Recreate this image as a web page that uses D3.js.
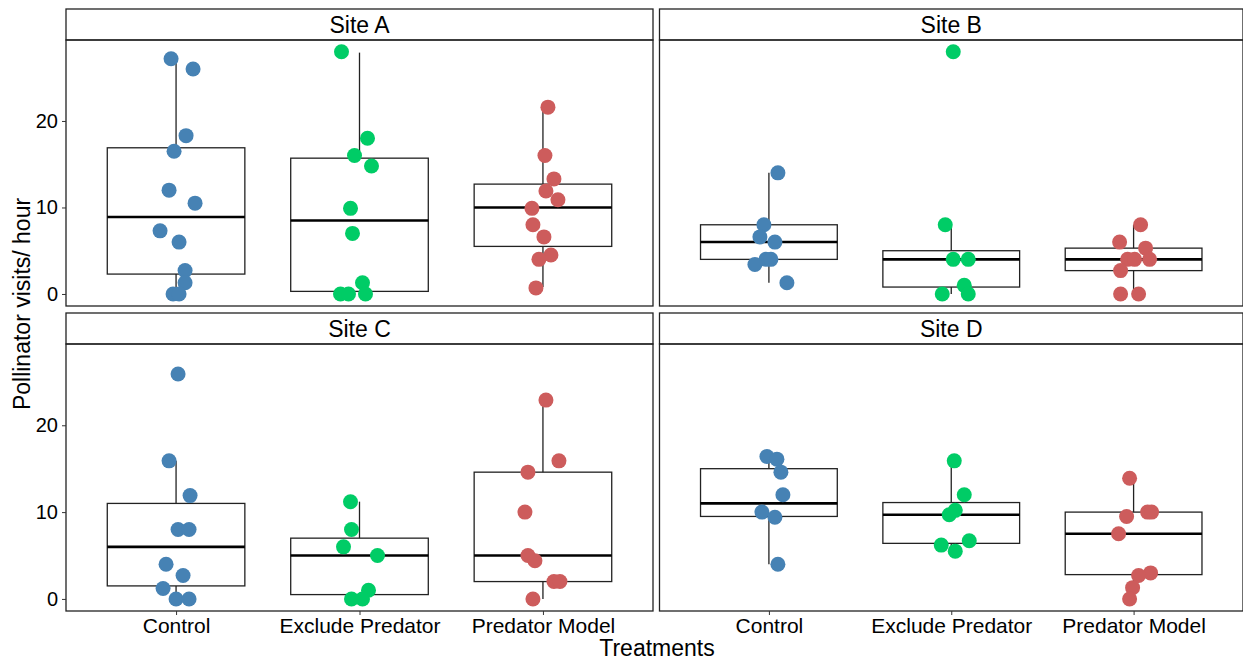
<!DOCTYPE html>
<html>
<head>
<meta charset="utf-8">
<script src="https://cdn.jsdelivr.net/npm/d3@7"></script>
<style>
  body { margin: 0; background: #fff; }
  text { font-family: "Liberation Sans", Arial, sans-serif; }
</style>
</head>
<body>
<svg width="1243" height="663"></svg>
<script>
const sites = ['Site A', 'Site B', 'Site C', 'Site D'];
const treatments = ['Control', 'Exclude Predator', 'Predator Model'];
const colors = ['#4682B4', '#00CC66', '#CD5C5C'];
const yTicks = [0, 10, 20];

// box stats per site / treatment: [lower whisker, q1, median, q3, upper whisker]
const boxA = [[0, 2.3, 8.9, 16.9, 27.2], [0, 0.3, 8.5, 15.7, 27.9], [0.8, 5.5, 10, 12.7, 21.6]];
const boxB = [[1.3, 4, 6, 8, 14], [0, 0.8, 4, 5, 8], [0, 2.7, 4, 5.3, 8]];
const boxC = [[0, 1.5, 6, 11, 15.9], [0, 0.5, 5, 7, 11.2], [0, 2, 5, 14.6, 22.9]];
const boxD = [[4, 9.5, 11, 15, 16.1], [5.5, 6.4, 9.7, 11.1, 15.9], [0, 2.8, 7.5, 10, 13.9]];

// jittered points: values and horizontal jitter (px)
const ptsA = [
  [[27.2,-5],[26,17],[18.3,10],[16.5,-2],[12,-7],[10.5,19],[7.3,-16],[6,3],[2.7,9],[1.3,9],[0,-3],[0,3]],
  [[28,-18],[18,8],[16,-5],[14.8,12],[9.9,-9],[7,-7],[1.3,3],[0,-19],[0,-11],[0,6]],
  [[21.6,5],[16,2],[13.3,11],[11.9,3],[10.9,15],[9.9,-11],[8,-10],[6.6,1],[4.5,8],[4,-4],[0.7,-7]]
];
const ptsB = [
  [[14,9],[8,-5],[6.6,-9],[6,6],[4,-3],[4,2],[3.4,-14],[1.3,18]],
  [[28,2],[8,-6],[4,2],[4,17],[1,13],[0,-9],[0,17]],
  [[8,7],[6,-14],[5.3,12],[4,-6],[4,1],[4,16],[2.7,-13],[0,-13],[0,5]]
];
const ptsC = [
  [[25.9,2],[15.9,-7],[11.9,14],[8,2],[8,13],[4,-10],[2.7,7],[1.2,-13],[0,0],[0,13]],
  [[11.2,-9],[8,-8],[6,-16],[5,18],[1,9],[0,-8],[0,3]],
  [[22.9,3],[15.9,16],[14.6,-15],[10,-18],[5,-15],[4.4,-8],[2,11],[2,17],[0,-10]]
];
const ptsD = [
  [[16.4,-2],[16.1,8],[14.6,12],[12,14],[10,-7],[9.4,6],[4,9]],
  [[15.9,3],[12,13],[10.2,4],[9.7,-2],[6.7,18],[6.2,-10],[5.5,4]],
  [[13.9,-4],[10,14],[10,18],[9.5,-7],[7.5,-15],[3,17],[2.7,5],[1.3,-1],[0,-4]]
];
const boxes = [boxA, boxB, boxC, boxD];
const points = [ptsA, ptsB, ptsC, ptsD];

const svg = d3.select('svg');
const cols = [[66, 653], [659.5, 1243]];
const rows = [[9, 40, 306], [313, 344, 611]];

sites.forEach((site, i) => {
  const [x0, x1] = cols[i % 2];
  const [s0, p0, p1] = rows[Math.floor(i / 2)];
  const g = svg.append('g');

  const x = d3.scalePoint().domain(treatments).range([x0, x1]).padding(0.6);
  const step = x.step();
  const y = d3.scaleLinear().domain([-1.39, 29.36]).range([p1, p0]);

  // strip
  g.append('rect').attr('x', x0).attr('y', s0).attr('width', x1 - x0).attr('height', p0 - s0)
    .attr('fill', '#fff').attr('stroke', '#222').attr('stroke-width', 1.3);
  g.append('text').attr('x', (x0 + x1) / 2).attr('y', (s0 + p0) / 2 + 8)
    .attr('text-anchor', 'middle').attr('font-size', 23).text(site);

  // boxes
  treatments.forEach((t, j) => {
    const [lo, q1, med, q3, hi] = boxes[i][j];
    const cx = x(t), w = step * 0.75;
    g.append('line').attr('x1', cx).attr('x2', cx).attr('y1', y(q3)).attr('y2', y(hi)).attr('stroke', '#222').attr('stroke-width', 1.3);
    g.append('line').attr('x1', cx).attr('x2', cx).attr('y1', y(q1)).attr('y2', y(lo)).attr('stroke', '#222').attr('stroke-width', 1.3);
    g.append('rect').attr('x', cx - w / 2).attr('y', y(q3)).attr('width', w).attr('height', y(q1) - y(q3))
      .attr('fill', 'none').attr('stroke', '#222').attr('stroke-width', 1.3);
    g.append('line').attr('x1', cx - w / 2).attr('x2', cx + w / 2).attr('y1', y(med)).attr('y2', y(med))
      .attr('stroke', '#000').attr('stroke-width', 2.6);
  });

  // points
  treatments.forEach((t, j) => {
    g.append('g').selectAll('circle').data(points[i][j]).join('circle')
      .attr('cx', (d) => x(t) + d[1]).attr('cy', (d) => y(d[0])).attr('r', 7.5)
      .attr('fill', colors[j]);
  });

  // panel border
  g.append('rect').attr('x', x0).attr('y', p0).attr('width', x1 - x0).attr('height', p1 - p0)
    .attr('fill', 'none').attr('stroke', '#222').attr('stroke-width', 1.3);

  if (i % 2 === 0) {
    const ya = g.append('g').attr('transform', `translate(${x0},0)`)
      .call(d3.axisLeft(y).tickValues(yTicks).tickSize(4).tickPadding(4));
    ya.select('.domain').remove();
    ya.selectAll('text').attr('font-size', 20).attr('fill', '#000')
      .style('font-family', '"Liberation Sans", Arial, sans-serif');
    ya.selectAll('line').attr('stroke', '#333');
  }
  if (i >= 2) {
    const xa = g.append('g').attr('transform', `translate(0,${p1})`)
      .call(d3.axisBottom(x).tickSize(4).tickPadding(3));
    xa.select('.domain').remove();
    xa.selectAll('text').attr('font-size', 21).attr('fill', '#000')
      .style('font-family', '"Liberation Sans", Arial, sans-serif');
    xa.selectAll('line').attr('stroke', '#333');
  }
});

svg.append('text').attr('x', 657).attr('y', 656).attr('text-anchor', 'middle')
  .attr('font-size', 23).text('Treatments');
svg.append('text').attr('transform', 'translate(30,304) rotate(-90)').attr('text-anchor', 'middle')
  .attr('font-size', 23).text('Pollinator visits/ hour');
</script>
</body>
</html>
